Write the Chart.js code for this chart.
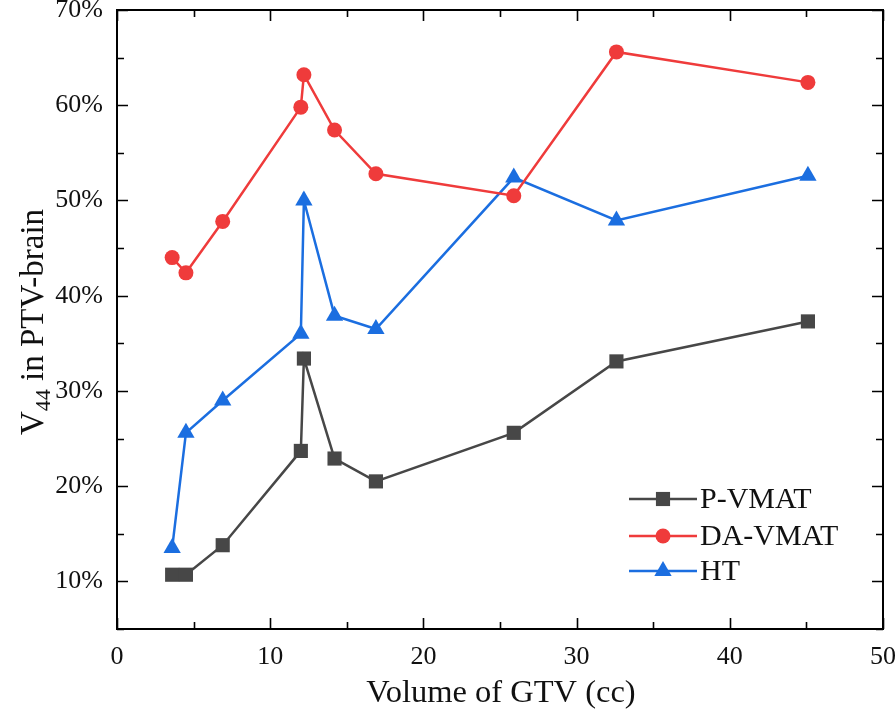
<!DOCTYPE html>
<html>
<head>
<meta charset="utf-8">
<script src="https://cdn.jsdelivr.net/npm/chart.js@4.4.1/dist/chart.umd.min.js"></script>
<style>
  html, body { margin: 0; padding: 0; background: #fff; }
  #wrap { width: 896px; height: 719px; position: relative; }
</style>
</head>
<body>
<div id="wrap"><canvas id="chart"></canvas></div>
<script>
// GTV volume (cc), shared by the three series
var gtvVolume = [3.6, 4.5, 6.9, 12.0, 12.2, 14.2, 16.9, 25.9, 32.6, 45.1];
// V44 in PTV-brain (%)
var pVmat = [10.7, 10.7, 13.8, 23.7, 33.4, 22.9, 20.5, 25.6, 33.1, 37.3];
var daVmat = [44.0, 42.4, 47.8, 59.8, 63.2, 57.4, 52.8, 50.5, 65.6, 62.4];
var htSeries = [13.5, 25.6, 29.0, 36.0, 50.0, 37.9, 36.5, 52.4, 47.9, 52.6];

var seriesNames = ["P-VMAT", "DA-VMAT", "HT"];
var xTicks = [0, 10, 20, 30, 40, 50];
var yTicks = [10, 20, 30, 40, 50, 60, 70];

var FONT = "'Liberation Serif', 'Times New Roman', serif";
var GREY = "#474747";
var RED = "#ef3b3b";
var BLUE = "#1b6ee0";

function toPoints(xs, ys) {
  return xs.map(function (x, i) { return { x: x, y: ys[i] }; });
}

function makeSet(label, values, color, style, radius) {
  return {
    label: label,
    data: toPoints(gtvVolume, values),
    borderColor: color,
    backgroundColor: color,
    borderWidth: 2.5,
    pointStyle: style,
    pointRadius: radius,
    pointHoverRadius: radius,
    pointBorderWidth: 0,
    pointBackgroundColor: color,
    tension: 0,
    fill: false
  };
}

// inward ticks on all four sides plus the frame
var frameTicks = {
  id: "frameTicks",
  afterDraw: function (chart) {
    var ctx = chart.ctx;
    var a = chart.chartArea;
    var xs = chart.scales.x;
    var ys = chart.scales.y;
    ctx.save();
    ctx.strokeStyle = "#000";
    ctx.lineWidth = 1.6;
    var i, v, px, len;
    for (i = 0; i <= 10; i++) {
      v = i * 5;
      px = Math.round(xs.getPixelForValue(v)) + 0.5;
      len = (i % 2 === 0) ? 11 : 7;
      ctx.beginPath();
      ctx.moveTo(px, a.bottom); ctx.lineTo(px, a.bottom - len);
      ctx.moveTo(px, a.top); ctx.lineTo(px, a.top + len);
      ctx.stroke();
    }
    for (i = 1; i <= 14; i++) {
      v = i * 5;
      px = Math.round(ys.getPixelForValue(v)) + 0.5;
      len = (i % 2 === 0) ? 11 : 7;
      ctx.beginPath();
      ctx.moveTo(a.left, px); ctx.lineTo(a.left + len, px);
      ctx.moveTo(a.right, px); ctx.lineTo(a.right - len, px);
      ctx.stroke();
    }
    ctx.lineWidth = 2;
    ctx.strokeRect(a.left, a.top, a.right - a.left, a.bottom - a.top);
    ctx.restore();
  }
};

// axis titles (y title has a subscript)
var axisTitles = {
  id: "axisTitles",
  afterDraw: function (chart) {
    var ctx = chart.ctx;
    var a = chart.chartArea;
    ctx.save();
    ctx.fillStyle = "#111";
    ctx.font = "32.5px " + FONT;
    ctx.textAlign = "center";
    ctx.textBaseline = "middle";
    ctx.fillText("Volume of GTV (cc)", 501, 693);

    ctx.translate(31, 322);
    ctx.rotate(-Math.PI / 2);
    ctx.textBaseline = "alphabetic";
    ctx.textAlign = "left";
    var big = "33px " + FONT;
    var small = "22px " + FONT;
    ctx.font = big;
    var wV = ctx.measureText("V").width;
    var wRest = ctx.measureText(" in PTV-brain").width;
    ctx.font = small;
    var wSub = ctx.measureText("44").width;
    var total = wV + wSub + wRest;
    var x0 = -total / 2;
    var base = 12;
    ctx.font = big;
    ctx.fillText("V", x0, base);
    ctx.font = small;
    ctx.fillText("44", x0 + wV, base + 7);
    ctx.font = big;
    ctx.fillText(" in PTV-brain", x0 + wV + wSub, base);
    ctx.restore();
  }
};

// legend drawn inside the plot, lower right
var insideLegend = {
  id: "insideLegend",
  afterDraw: function (chart) {
    var ctx = chart.ctx;
    var rows = [499, 536, 571];
    ctx.save();
    chart.data.datasets.forEach(function (ds, i) {
      var y = rows[i];
      ctx.strokeStyle = ds.borderColor;
      ctx.lineWidth = 2.5;
      ctx.beginPath();
      ctx.moveTo(629, y); ctx.lineTo(697, y);
      ctx.stroke();
      ctx.fillStyle = ds.borderColor;
      Chart.helpers.drawPoint(ctx, {
        pointStyle: ds.pointStyle,
        radius: ds.pointRadius,
        rotation: 0,
        borderWidth: 0
      }, 663, y);
      ctx.fillStyle = "#111";
      ctx.font = "30px " + FONT;
      ctx.textAlign = "left";
      ctx.textBaseline = "middle";
      ctx.fillText(ds.label, 700, y + 1);
    });
    ctx.restore();
  }
};

document.addEventListener("DOMContentLoaded", function () {
  var canvas = document.getElementById("chart");
  new Chart(canvas.getContext("2d"), {
    type: "line",
    data: {
      datasets: [
        makeSet(seriesNames[0], pVmat, GREY, "rect", 10),
        makeSet(seriesNames[1], daVmat, RED, "circle", 7.5),
        makeSet(seriesNames[2], htSeries, BLUE, "triangle", 10)
      ]
    },
    options: {
      responsive: true,
      maintainAspectRatio: false,
      animation: false,
      layout: { padding: { top: 10, right: 13, left: 0, bottom: 0 } },
      plugins: {
        legend: { display: false },
        tooltip: { enabled: false }
      },
      scales: {
        x: {
          type: "linear",
          min: 0,
          max: 50,
          grid: { display: false, drawTicks: false },
          border: { display: false },
          afterBuildTicks: function (scale) {
            scale.ticks = xTicks.map(function (v) { return { value: v }; });
          },
          afterFit: function (scale) {
            scale.height = 90;
            scale.paddingLeft = 0;
            scale.paddingRight = 0;
          },
          ticks: {
            color: "#111",
            font: { family: FONT, size: 26 },
            padding: 13,
            maxRotation: 0
          }
        },
        y: {
          type: "linear",
          min: 5,
          max: 70,
          grid: { display: false, drawTicks: false },
          border: { display: false },
          afterBuildTicks: function (scale) {
            scale.ticks = yTicks.map(function (v) { return { value: v }; });
          },
          afterFit: function (scale) {
            scale.width = 117;
            scale.paddingTop = 0;
            scale.paddingBottom = 0;
          },
          ticks: {
            color: "#111",
            font: { family: FONT, size: 26 },
            padding: 14,
            callback: function (v) { return v + "%"; }
          }
        }
      }
    },
    plugins: [frameTicks, axisTitles, insideLegend]
  });
});
</script>
</body>
</html>
